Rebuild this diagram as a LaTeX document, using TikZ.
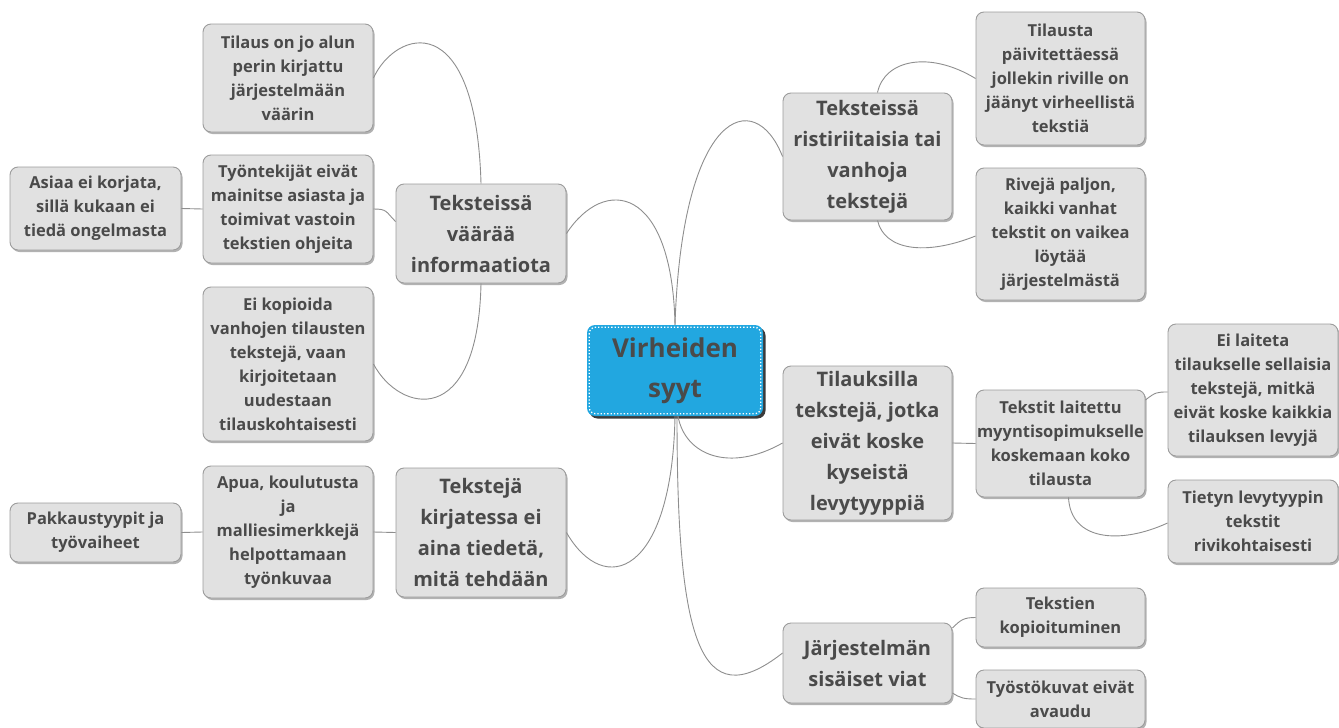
\documentclass[tikz,border=0pt]{standalone}
\usepackage{fontspec}
\setmainfont{Open Sans}
\usetikzlibrary{shadows,calc}
\definecolor{boxfill}{HTML}{E1E1E1}
\definecolor{boxline}{HTML}{9C9C9C}
\definecolor{ink}{HTML}{4A4A4A}
\definecolor{hubfill}{HTML}{22A7E0}
\definecolor{wirecol}{HTML}{8E8E8E}

\tikzset{
  card/.style={draw=boxline, fill=boxfill, line width=0.9pt, rounded corners=8pt,
    text=ink, align=center, inner sep=0pt, minimum width=170pt,
    drop shadow={shadow xshift=1.5pt, shadow yshift=-2pt, fill=black, opacity=0.3}},
  leaf/.style={card, font=\fontsize{16.5}{24}\selectfont\bfseries},
  topic/.style={card, font=\fontsize{20}{31}\selectfont\bfseries},
  hubnode/.style={fill=hubfill, draw=none, rounded corners=8pt, text=ink, align=center,
    inner sep=0pt, minimum width=176pt, minimum height=91pt,
    font=\fontsize{26}{40}\selectfont\bfseries,
    drop shadow={shadow xshift=2.5pt, shadow yshift=-2.5pt, fill=black!85, opacity=0.9}},
  wire/.style={draw=wirecol, line width=0.9pt},
}

\begin{document}
\begin{tikzpicture}[x=1pt, y=-1pt]
\useasboundingbox (0,0) rectangle (1339,728);

% central topic
\node[hubnode] (hub) at (675,370.5) {Virheiden\\syyt};
\draw[white, line width=1.3pt, dash pattern=on 1.3pt off 2pt, rounded corners=6pt]
  ($(hub.north west)+(2.5,2.5)$) rectangle ($(hub.south east)+(-2.5,-2.5)$);

% left branch: wrong information
\node[topic, minimum height=99pt] (t4) at (481,233.5) {Teksteissä\\väärää\\informaatiota};
\node[leaf, minimum height=108pt] (t1) at (288,78) {Tilaus on jo alun\\perin kirjattu\\järjestelmään\\väärin};
\node[leaf, minimum height=108pt] (t2) at (288,209) {Työntekijät eivät\\mainitse asiasta ja\\toimivat vastoin\\tekstien ohjeita};
\node[leaf, minimum height=83pt, minimum width=171pt] (t3) at (95.5,208.5) {Asiaa ei korjata,\\sillä kukaan ei\\tiedä ongelmasta};
\node[leaf, minimum height=154pt] (t5) at (288,364) {Ei kopioida\\vanhojen tilausten\\tekstejä, vaan\\kirjoitetaan\\uudestaan\\tilauskohtaisesti};

% left branch: not knowing what to do
\node[topic, minimum height=129pt] (t8) at (481,532.5) {Tekstejä\\kirjatessa ei\\aina tiedetä,\\mitä tehdään};
\node[leaf, minimum height=132pt] (t7) at (288,532) {Apua, koulutusta\\ja\\malliesimerkkejä\\helpottamaan\\työnkuvaa};
\node[leaf, minimum height=59pt, minimum width=171pt] (t6) at (95.5,532.5) {Pakkaustyypit ja\\työvaiheet};

% right branch: conflicting texts
\node[topic, minimum height=127pt, minimum width=169pt] (t10) at (867.5,156.5) {Teksteissä\\ristiriitaisia tai\\vanhoja\\tekstejä};
\node[leaf, minimum height=133pt, minimum width=169pt] (t11) at (1060.5,78.5) {Tilausta\\päivitettäessä\\jollekin riville on\\jäänyt virheellistä\\tekstiä};
\node[leaf, minimum height=132pt, minimum width=169pt] (t12) at (1060.5,234) {Rivejä paljon,\\kaikki vanhat\\tekstit on vaikea\\löytää\\järjestelmästä};

% right branch: texts not concerning the board type
\node[topic, minimum height=154pt, minimum width=169pt] (t13) at (867.5,443) {Tilauksilla\\tekstejä, jotka\\eivät koske\\kyseistä\\levytyyppiä};
\node[leaf, minimum height=107pt, minimum width=169pt] (t14) at (1060.5,443.5) {Tekstit laitettu\\myyntisopimukselle\\koskemaan koko\\tilausta};
\node[leaf, minimum height=132pt] (t15) at (1253,390) {Ei laiteta\\tilaukselle sellaisia\\tekstejä, mitkä\\eivät koske kaikkia\\tilauksen levyjä};
\node[leaf, minimum height=83pt] (t16) at (1253,521.5) {Tietyn levytyypin\\tekstit\\rivikohtaisesti};

% right branch: system faults
\node[topic, minimum height=80pt, minimum width=169pt] (t17) at (867.5,663) {Järjestelmän\\sisäiset viat};
\node[leaf, minimum height=59pt, minimum width=169pt] (t18) at (1060.5,617.5) {Tekstien\\kopioituminen};
\node[leaf, minimum height=58pt, minimum width=169pt] (t19) at (1060.5,699) {Työstökuvat eivät\\avaudu};

% connectors from the central topic
\draw[wire] (hub.north) .. controls +(-3,-140) and +(38,-58) .. (t4.east);
\draw[wire] (hub.north) .. controls +(7,-215) and +(-28,-71) .. (t10.west);
\draw[wire] (hub.south) .. controls +(-3,159) and +(38,66) .. (t8.east);
\draw[wire] ($(hub.south)+(3,0)$) .. controls +(7,39) and +(-53,30) .. (t13.west);
\draw[wire] ($(hub.south)+(2,0)$) .. controls +(0,224) and +(-83,65) .. ($(t17.west)+(0,-10)$);

% connectors on the left
\draw[wire] (t1.east) .. controls +(22,-48) and +(-5,-179) .. (t4.north);
\draw[wire] (t4.south) .. controls +(-3,147) and +(26,49) .. (t5.east);
\draw[wire] (t2.east) .. controls +(14,0) and +(-10,-10) .. ($(t4.west)+(0,-12)$);
\draw[wire] (t2.west) -- (t3.east);
\draw[wire] (t8.west) -- (t7.east);
\draw[wire] (t7.west) -- (t6.east);

% connectors on the right
\draw[wire] ($(t10.north)+(10,0)$) .. controls +(7,-33) and +(-46,-28) .. (t11.west);
\draw[wire] ($(t10.south)+(10,0)$) .. controls +(7,30) and +(-50,20) .. ($(t12.west)+(0,2)$);
\draw[wire] (t13.east) -- (t14.west);
\draw[wire] ($(t14.east)+(0,-43.5)$) .. controls +(10,-8) and +(-10,0) .. ($(t15.west)+(0,2)$);
\draw[wire] ($(t14.south)+(8,0)$) .. controls +(2,43) and +(-48,22) .. ($(t16.west)+(0,1.5)$);
\draw[wire] ($(t17.east)+(0,-35)$) .. controls +(8,-8) and +(-12,0) .. (t18.west);
\draw[wire] ($(t17.east)+(0,30)$) .. controls +(8,5) and +(-12,0) .. (t19.west);
\end{tikzpicture}
\end{document}
